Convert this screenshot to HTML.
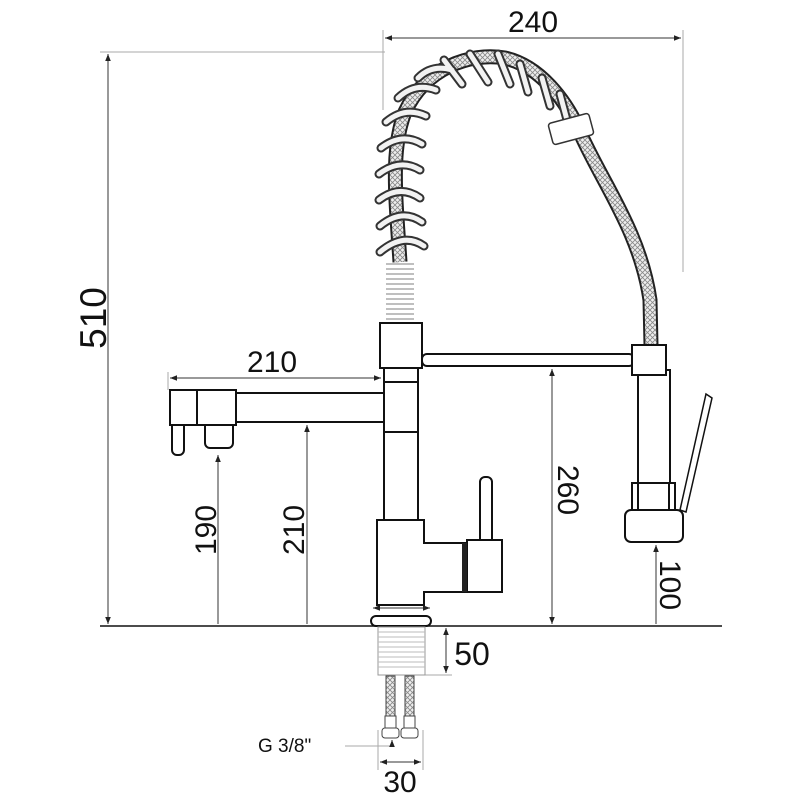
<!DOCTYPE html>
<html><head><meta charset="utf-8"><style>html,body{margin:0;padding:0;background:#fff}svg{display:block}text{font-family:"Liberation Sans",sans-serif;fill:#111}</style></head>
<body>
<svg width="800" height="800" viewBox="0 0 800 800" xmlns="http://www.w3.org/2000/svg">
<defs>
<marker id="a" viewBox="0 0 10 10" refX="10" refY="5" markerWidth="7" markerHeight="7" orient="auto-start-reverse"><path d="M0,1 L10,5 L0,9 Z" fill="#222"/></marker>
<pattern id="mesh" width="5" height="5" patternUnits="userSpaceOnUse"><rect width="5" height="5" fill="#eee"/><path d="M0,0 L5,5 M5,0 L0,5" stroke="#888" stroke-width="0.8"/></pattern>
</defs>
<g stroke="#aaa" stroke-width="1" fill="none">
<line x1="100" y1="52" x2="385" y2="52"/>
<line x1="383" y1="30" x2="383" y2="110"/>
<line x1="683" y1="30" x2="683" y2="272"/>
<line x1="168" y1="372" x2="168" y2="390"/>
<line x1="425" y1="675" x2="452" y2="675"/>
<line x1="378" y1="730" x2="378" y2="770"/>
<line x1="423" y1="730" x2="423" y2="770"/>
<line x1="345" y1="746" x2="392" y2="746"/>
</g>
<g stroke="#333" stroke-width="1" fill="none">
<line x1="108" y1="54" x2="108" y2="624" marker-start="url(#a)" marker-end="url(#a)"/>
<line x1="385" y1="38" x2="681" y2="38" marker-start="url(#a)" marker-end="url(#a)"/>
<line x1="170" y1="378" x2="381" y2="378" marker-start="url(#a)" marker-end="url(#a)"/>
<line x1="218" y1="624" x2="218" y2="455" marker-end="url(#a)"/>
<line x1="307" y1="624" x2="307" y2="425" marker-end="url(#a)"/>
<line x1="552" y1="369" x2="552" y2="624" marker-start="url(#a)" marker-end="url(#a)"/>
<line x1="656" y1="624" x2="656" y2="545" marker-end="url(#a)"/>
<line x1="446" y1="628" x2="446" y2="673" marker-start="url(#a)" marker-end="url(#a)"/>
<line x1="373" y1="608" x2="430" y2="608" marker-start="url(#a)" marker-end="url(#a)"/>
<line x1="380" y1="762" x2="421" y2="762" marker-start="url(#a)" marker-end="url(#a)"/>
<line x1="392" y1="746" x2="392" y2="740" marker-end="url(#a)"/>
</g>
<line x1="100" y1="626" x2="722" y2="626" stroke="#111" stroke-width="1.6"/>
<text x="533" y="32" font-size="30" text-anchor="middle">240</text>
<text transform="translate(106,318) rotate(-90)" font-size="37" text-anchor="middle">510</text>
<text x="272" y="372" font-size="30" text-anchor="middle">210</text>
<text transform="translate(216,530) rotate(-90)" font-size="30" text-anchor="middle">190</text>
<text transform="translate(304,530) rotate(-90)" font-size="30" text-anchor="middle">210</text>
<text transform="translate(558,490) rotate(90)" font-size="30" text-anchor="middle">260</text>
<text transform="translate(660,585) rotate(90)" font-size="30" text-anchor="middle">100</text>
<text x="472" y="665" font-size="32" text-anchor="middle">50</text>
<text x="400" y="792" font-size="30" text-anchor="middle">30</text>
<text x="258" y="752" font-size="19">G 3/8"</text>
<!-- hose -->
<path d="M400,262 C396,200 390,150 405,112 C425,68 470,52 505,58 C540,66 565,100 578,128 C600,180 640,230 650,300 L651,345" stroke="#222" stroke-width="15" fill="none"/>
<path d="M400,262 C396,200 390,150 405,112 C425,68 470,52 505,58 C540,66 565,100 578,128 C600,180 640,230 650,300 L651,345" stroke="url(#mesh)" stroke-width="11" fill="none"/>
<g stroke="#333" stroke-width="9" fill="none" stroke-linecap="round">
<path d="M380,252 Q404,232 424,246"/><path d="M380,226 Q402,208 422,222"/><path d="M379,200 Q400,184 420,198"/><path d="M379,174 Q400,158 420,170"/><path d="M381,148 Q402,132 422,144"/><path d="M386,122 Q405,106 426,116"/><path d="M398,98 Q415,82 436,90"/><path d="M418,78 Q432,64 452,70"/><path d="M444,60 L462,84"/><path d="M470,54 L488,82"/><path d="M498,54 L510,84"/><path d="M520,64 L528,92"/><path d="M542,78 L550,106"/><path d="M560,94 L567,120"/>
</g>
<g stroke="#f2f2f2" stroke-width="5" fill="none" stroke-linecap="round">
<path d="M380,252 Q404,232 424,246"/><path d="M380,226 Q402,208 422,222"/><path d="M379,200 Q400,184 420,198"/><path d="M379,174 Q400,158 420,170"/><path d="M381,148 Q402,132 422,144"/><path d="M386,122 Q405,106 426,116"/><path d="M398,98 Q415,82 436,90"/><path d="M418,78 Q432,64 452,70"/><path d="M444,60 L462,84"/><path d="M470,54 L488,82"/><path d="M498,54 L510,84"/><path d="M520,64 L528,92"/><path d="M542,78 L550,106"/><path d="M560,94 L567,120"/>
</g>
<rect x="550" y="118" width="42" height="22" rx="3" transform="rotate(-15 571 129)" fill="#fff" stroke="#333" stroke-width="1.5"/>
<g stroke="#999" stroke-width="1.2"><line x1="386" y1="264" x2="414" y2="264"/><line x1="386" y1="269" x2="414" y2="269"/><line x1="386" y1="274" x2="414" y2="274"/><line x1="386" y1="279" x2="414" y2="279"/><line x1="386" y1="284" x2="414" y2="284"/><line x1="386" y1="289" x2="414" y2="289"/><line x1="386" y1="294" x2="414" y2="294"/><line x1="386" y1="299" x2="414" y2="299"/><line x1="386" y1="304" x2="414" y2="304"/><line x1="386" y1="309" x2="414" y2="309"/><line x1="386" y1="314" x2="414" y2="314"/><line x1="386" y1="319" x2="414" y2="319"/></g>
<g fill="#fff" stroke="#111" stroke-width="2">
<rect x="236" y="393" width="148" height="29"/>
<rect x="205" y="418" width="28" height="30" rx="5"/>
<rect x="172" y="420" width="12" height="35" rx="5"/>
<rect x="170" y="390" width="66" height="35"/>
<line x1="197" y1="390" x2="197" y2="425"/>
<rect x="384" y="368" width="34" height="152"/>
<line x1="384" y1="382" x2="418" y2="382"/>
<line x1="384" y1="432" x2="418" y2="432"/>
<rect x="422" y="354" width="212" height="12" rx="5"/>
<rect x="380" y="323" width="42" height="45"/>
<path d="M377,605 L377,520 L424,520 L424,543 L465,543 L465,592 L424,592 L424,605 Z"/>
<rect x="480" y="477" width="12" height="70" rx="5"/>
<rect x="467" y="540" width="35" height="52"/>
<rect x="638" y="370" width="32" height="113"/>
<rect x="632" y="345" width="34" height="30"/>
<path d="M706,394 L712,398 L686,512 L680,510 Z" stroke-width="1.5"/>
<rect x="632" y="483" width="43" height="28"/>
<line x1="638" y1="483" x2="638" y2="511"/><line x1="669" y1="483" x2="669" y2="511"/>
<rect x="625" y="510" width="58" height="32" rx="6"/>
<rect x="371" y="616" width="60" height="10" rx="5"/>
</g>
<rect x="462" y="543" width="5" height="49" fill="#222"/>
<rect x="378" y="627" width="47" height="48" fill="#fff" stroke="#999" stroke-width="1"/>
<g stroke="#bbb" stroke-width="1"><line x1="378" y1="632" x2="425" y2="632"/><line x1="378" y1="637" x2="425" y2="637"/><line x1="378" y1="642" x2="425" y2="642"/><line x1="378" y1="647" x2="425" y2="647"/><line x1="378" y1="652" x2="425" y2="652"/><line x1="378" y1="657" x2="425" y2="657"/><line x1="378" y1="662" x2="425" y2="662"/><line x1="378" y1="667" x2="425" y2="667"/></g>
<g stroke="#444" stroke-width="1" fill="url(#mesh)">
<rect x="386" y="676" width="9" height="40"/><rect x="405" y="676" width="9" height="40"/>
<rect x="385" y="716" width="11" height="12" fill="#fff"/><rect x="404" y="716" width="11" height="12" fill="#fff"/>
<rect x="382" y="728" width="17" height="10" rx="3" fill="#fff"/><rect x="401" y="728" width="17" height="10" rx="3" fill="#fff"/>
</g>
</svg>
</body></html>
